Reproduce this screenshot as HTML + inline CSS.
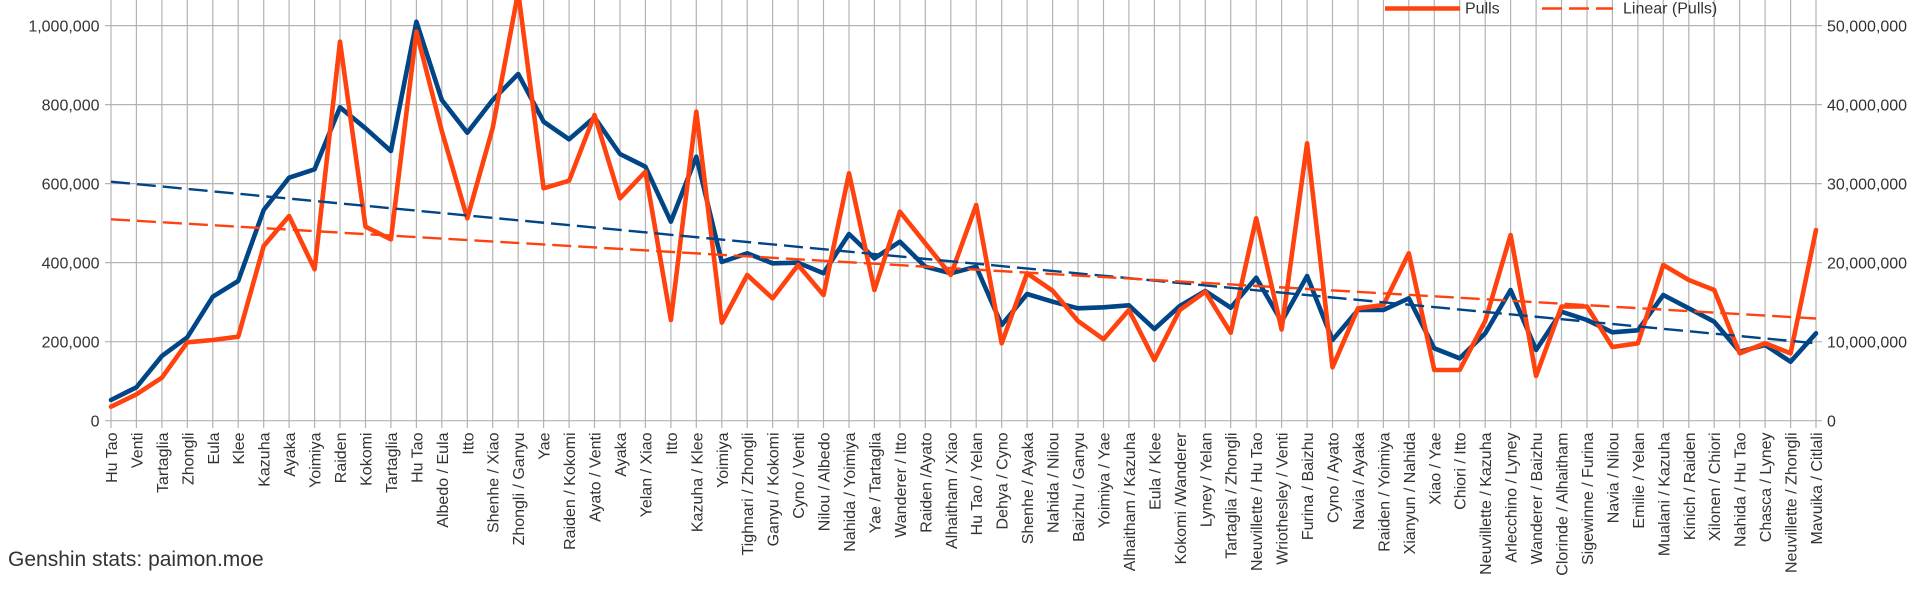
<!DOCTYPE html>
<html>
<head>
<meta charset="utf-8">
<style>
html,body{margin:0;padding:0;background:#ffffff;width:1929px;height:593px;overflow:hidden;}
svg{display:block;}
text{font-family:"Liberation Sans",Arial,sans-serif;fill:#333333;}
</style>
</head>
<body>
<svg width="1929" height="593" viewBox="0 0 1929 593" xmlns="http://www.w3.org/2000/svg">
<rect x="0" y="0" width="1929" height="593" fill="#ffffff"/>

<!-- horizontal gridlines -->
<g stroke="#b3b3b3" stroke-width="1.2" fill="none">
<path d="M105 420.7H1822M105 341.7H1822M105 262.6H1822M105 183.6H1822M105 104.6H1822M105 25.6H1822"/>
<!-- vertical gridlines -->
<path d="M111 0V428M136.4 0V428M161.9 0V428M187.3 0V428M212.8 0V428M238.2 0V428M263.7 0V428M289.1 0V428M314.6 0V428M340 0V428M365.5 0V428M390.9 0V428M416.4 0V428M441.8 0V428M467.3 0V428M492.7 0V428M518.2 0V428M543.6 0V428M569.1 0V428M594.5 0V428M620 0V428M645.4 0V428M670.9 0V428M696.3 0V428M721.8 0V428M747.2 0V428M772.6 0V428M798.1 0V428M823.5 0V428M849 0V428M874.4 0V428M899.9 0V428M925.3 0V428M950.8 0V428M976.2 0V428M1001.7 0V428M1027.1 0V428M1052.6 0V428M1078 0V428M1103.5 0V428M1128.9 0V428M1154.4 0V428M1179.8 0V428M1205.3 0V428M1230.7 0V428M1256.2 0V428M1281.6 0V428M1307.1 0V428M1332.5 0V428M1358 0V428M1383.4 0V428M1408.8 0V428M1434.3 0V428M1459.7 0V428M1485.2 0V428M1510.6 0V428M1536.1 0V428M1561.5 0V428M1587 0V428M1612.4 0V428M1637.9 0V428M1663.3 0V428M1688.8 0V428M1714.2 0V428M1739.7 0V428M1765.1 0V428M1790.6 0V428M1816 0V428"/>
</g>

<!-- left axis labels -->
<g font-size="16" text-anchor="end">
<text x="99.5" y="426.7">0</text>
<text x="99.5" y="347.7">200,000</text>
<text x="99.5" y="268.6">400,000</text>
<text x="99.5" y="189.6">600,000</text>
<text x="99.5" y="110.6">800,000</text>
<text x="99.5" y="31.6">1,000,000</text>
</g>

<!-- right axis labels -->
<g font-size="16" text-anchor="start">
<text x="1827" y="426.7">0</text>
<text x="1827" y="347.7">10,000,000</text>
<text x="1827" y="268.6">20,000,000</text>
<text x="1827" y="189.6">30,000,000</text>
<text x="1827" y="110.6">40,000,000</text>
<text x="1827" y="31.6">50,000,000</text>
</g>

<!-- series: blue -->
<polyline fill="none" stroke="#004586" stroke-width="4.6" stroke-linejoin="round" stroke-linecap="round"
points="111,400 136.4,387.3 161.9,356 187.3,337.3 212.8,296.7 238.2,281 263.7,210 289.1,177.7 314.6,169.3 340,107.3 365.5,128.3 390.9,151 416.4,21.7 441.8,100 467.3,132.7 492.7,100 518.2,74 543.6,121.7 569.1,139.3 594.5,117.3 620,154 645.4,166.7 670.9,221.7 696.3,156.7 721.8,262 747.2,253.3 772.6,263.3 798.1,262.7 823.5,273.3 849,234 874.4,258.3 899.9,241.7 925.3,266.7 950.8,273.3 976.2,266.7 1001.7,325 1027.1,294 1052.6,301.7 1078,308.3 1103.5,307.3 1128.9,305.3 1154.4,329 1179.8,306 1205.3,291 1230.7,307.7 1256.2,277.7 1281.6,321.5 1307.1,276 1332.5,340 1358,310 1383.4,310 1408.8,298.3 1434.3,348.3 1459.7,358.3 1485.2,333.3 1510.6,290 1536.1,350 1561.5,311.7 1587,320 1612.4,332.3 1637.9,330.3 1663.3,295 1688.8,308.3 1714.2,321.7 1739.7,351.7 1765.1,345 1790.6,361.7 1816,333.3"/>

<!-- series: orange (Pulls) -->
<polyline fill="none" stroke="#ff420e" stroke-width="4.6" stroke-linejoin="round" stroke-linecap="round"
points="111,406.7 136.4,394.3 161.9,377.7 187.3,342.3 212.8,340 238.2,336.7 263.7,246 289.1,216 314.6,269.3 340,41.7 365.5,226.7 390.9,239.3 416.4,31.7 441.8,131 467.3,218.3 492.7,128 518.2,-8 543.6,188.3 569.1,180.7 594.5,115 620,198.3 645.4,171.7 670.9,320 696.3,111.7 721.8,322.7 747.2,275 772.6,298.3 798.1,265 823.5,295 849,173.3 874.4,290 899.9,211.7 925.3,243.3 950.8,275 976.2,205 1001.7,343.3 1027.1,273.3 1052.6,290.7 1078,321 1103.5,339.3 1128.9,310 1154.4,360 1179.8,310 1205.3,291.7 1230.7,332.7 1256.2,218.3 1281.6,329.5 1307.1,143.3 1332.5,367.3 1358,308.3 1383.4,305 1408.8,253.3 1434.3,370 1459.7,370 1485.2,321 1510.6,235 1536.1,376 1561.5,306.5 1587,306.5 1612.4,347 1637.9,343.3 1663.3,265 1688.8,280 1714.2,290 1739.7,353.3 1765.1,343.3 1790.6,353.3 1816,230"/>

<!-- trend lines -->
<line x1="111" y1="181.7" x2="1816" y2="343.3" stroke="#004586" stroke-width="2.4" stroke-dasharray="19 7"/>
<line x1="111" y1="219.3" x2="1816" y2="318.5" stroke="#ff420e" stroke-width="2.4" stroke-dasharray="19 7"/>

<!-- legend -->
<line x1="1385" y1="8.5" x2="1460" y2="8.5" stroke="#ff420e" stroke-width="4.6"/>
<text x="1465" y="13.5" font-size="16">Pulls</text>
<line x1="1542" y1="8.5" x2="1613" y2="8.5" stroke="#ff420e" stroke-width="2.4" stroke-dasharray="20 7"/>
<text x="1623" y="13.5" font-size="16">Linear (Pulls)</text>

<!-- x axis category labels -->
<g font-size="16" text-anchor="end" style="white-space:pre">
<text transform="translate(117,432.5) rotate(-90)">Hu Tao</text>
<text transform="translate(142.4,432.5) rotate(-90)">Venti</text>
<text transform="translate(167.9,432.5) rotate(-90)">Tartaglia</text>
<text transform="translate(193.3,432.5) rotate(-90)">Zhongli</text>
<text transform="translate(218.8,432.5) rotate(-90)">Eula</text>
<text transform="translate(244.2,432.5) rotate(-90)">Klee</text>
<text transform="translate(269.7,432.5) rotate(-90)">Kazuha</text>
<text transform="translate(295.1,432.5) rotate(-90)">Ayaka</text>
<text transform="translate(320.6,432.5) rotate(-90)">Yoimiya</text>
<text transform="translate(346,432.5) rotate(-90)">Raiden</text>
<text transform="translate(371.5,432.5) rotate(-90)">Kokomi</text>
<text transform="translate(396.9,432.5) rotate(-90)">Tartaglia</text>
<text transform="translate(422.4,432.5) rotate(-90)">Hu Tao</text>
<text transform="translate(447.8,432.5) rotate(-90)">Albedo / Eula</text>
<text transform="translate(473.3,432.5) rotate(-90)">Itto</text>
<text transform="translate(498.7,432.5) rotate(-90)">Shenhe / Xiao</text>
<text transform="translate(524.2,432.5) rotate(-90)">Zhongli / Ganyu</text>
<text transform="translate(549.6,432.5) rotate(-90)">Yae</text>
<text transform="translate(575.1,432.5) rotate(-90)">Raiden / Kokomi</text>
<text transform="translate(600.5,432.5) rotate(-90)">Ayato / Venti</text>
<text transform="translate(626,432.5) rotate(-90)">Ayaka</text>
<text transform="translate(651.4,432.5) rotate(-90)">Yelan / Xiao</text>
<text transform="translate(676.9,432.5) rotate(-90)">Itto</text>
<text transform="translate(702.3,432.5) rotate(-90)">Kazuha / Klee</text>
<text transform="translate(727.8,432.5) rotate(-90)">Yoimiya</text>
<text transform="translate(753.2,432.5) rotate(-90)">Tighnari / Zhongli</text>
<text transform="translate(778.6,432.5) rotate(-90)">Ganyu / Kokomi</text>
<text transform="translate(804.1,432.5) rotate(-90)">Cyno / Venti</text>
<text transform="translate(829.5,432.5) rotate(-90)">Nilou / Albedo</text>
<text transform="translate(855,432.5) rotate(-90)">Nahida / Yoimiya</text>
<text transform="translate(880.4,432.5) rotate(-90)">Yae / Tartaglia</text>
<text transform="translate(905.9,432.5) rotate(-90)">Wanderer  / Itto</text>
<text transform="translate(931.3,432.5) rotate(-90)">Raiden /Ayato</text>
<text transform="translate(956.8,432.5) rotate(-90)">Alhaitham / Xiao</text>
<text transform="translate(982.2,432.5) rotate(-90)">Hu Tao / Yelan</text>
<text transform="translate(1007.7,432.5) rotate(-90)">Dehya / Cyno</text>
<text transform="translate(1033.1,432.5) rotate(-90)">Shenhe  / Ayaka</text>
<text transform="translate(1058.6,432.5) rotate(-90)">Nahida / Nilou</text>
<text transform="translate(1084,432.5) rotate(-90)">Baizhu / Ganyu</text>
<text transform="translate(1109.5,432.5) rotate(-90)">Yoimiya  / Yae</text>
<text transform="translate(1134.9,432.5) rotate(-90)">Alhaitham  / Kazuha</text>
<text transform="translate(1160.4,432.5) rotate(-90)">Eula / Klee</text>
<text transform="translate(1185.8,432.5) rotate(-90)">Kokomi /Wanderer</text>
<text transform="translate(1211.3,432.5) rotate(-90)">Lyney / Yelan</text>
<text transform="translate(1236.7,432.5) rotate(-90)">Tartaglia / Zhongli</text>
<text transform="translate(1262.2,432.5) rotate(-90)">Neuvillette / Hu Tao</text>
<text transform="translate(1287.6,432.5) rotate(-90)">Wriothesley / Venti</text>
<text transform="translate(1313.1,432.5) rotate(-90)">Furina / Baizhu</text>
<text transform="translate(1338.5,432.5) rotate(-90)">Cyno  / Ayato</text>
<text transform="translate(1364,432.5) rotate(-90)">Navia  / Ayaka</text>
<text transform="translate(1389.4,432.5) rotate(-90)">Raiden / Yoimiya</text>
<text transform="translate(1414.8,432.5) rotate(-90)">Xianyun / Nahida</text>
<text transform="translate(1440.3,432.5) rotate(-90)">Xiao / Yae</text>
<text transform="translate(1465.7,432.5) rotate(-90)">Chiori  / Itto</text>
<text transform="translate(1491.2,432.5) rotate(-90)">Neuvillette  / Kazuha</text>
<text transform="translate(1516.6,432.5) rotate(-90)">Arlecchino / Lyney</text>
<text transform="translate(1542.1,432.5) rotate(-90)">Wanderer / Baizhu</text>
<text transform="translate(1567.5,432.5) rotate(-90)">Clorinde / Alhaitham</text>
<text transform="translate(1593,432.5) rotate(-90)">Sigewinne / Furina</text>
<text transform="translate(1618.4,432.5) rotate(-90)">Navia / Nilou</text>
<text transform="translate(1643.9,432.5) rotate(-90)">Emilie / Yelan</text>
<text transform="translate(1669.3,432.5) rotate(-90)">Mualani  / Kazuha</text>
<text transform="translate(1694.8,432.5) rotate(-90)">Kinich / Raiden</text>
<text transform="translate(1720.2,432.5) rotate(-90)">Xilonen / Chiori</text>
<text transform="translate(1745.7,432.5) rotate(-90)">Nahida / Hu Tao</text>
<text transform="translate(1771.1,432.5) rotate(-90)">Chasca / Lyney</text>
<text transform="translate(1796.6,432.5) rotate(-90)">Neuvillette / Zhongli</text>
<text transform="translate(1822,432.5) rotate(-90)">Mavuika / Citlali</text>
</g>

<!-- source caption -->
<text x="8" y="566" font-size="21">Genshin stats: paimon.moe</text>
</svg>
</body>
</html>
